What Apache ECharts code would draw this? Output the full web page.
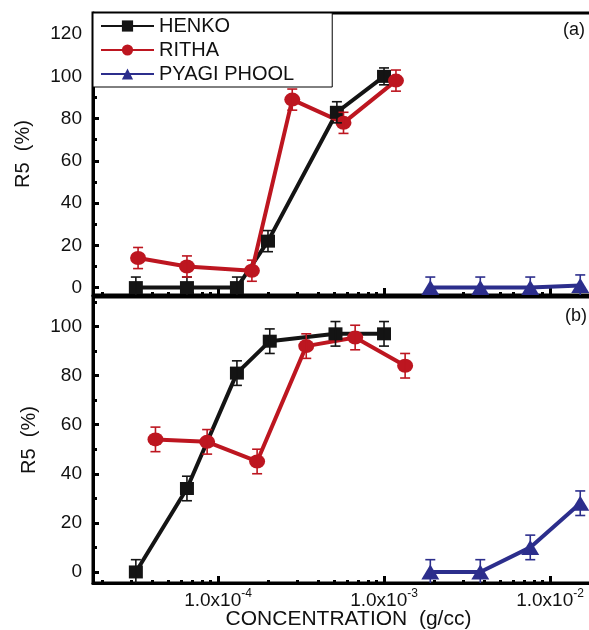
<!DOCTYPE html>
<html>
<head>
<meta charset="utf-8">
<script src="https://cdn.jsdelivr.net/npm/echarts@6/dist/echarts.min.js"></script>
<style>
  html, body { margin: 0; padding: 0; background: #fff; }
  #chart { width: 589px; height: 630px; }
</style>
</head>
<body>
<div id="chart"></div>
<script>
// panel (a)
const henkoTopConc = [3.2e-5, 6.5e-5, 1.3e-4, 2.0e-4, 5.2e-4, 1.0e-3]
const henkoTopR5 = [0, 0, 0, 22, 83, 100]
const henkoTopErr = [5, 5, 5, 5, 5, 4]
const rithaTopConc = [3.3e-5, 6.5e-5, 1.6e-4, 2.8e-4, 5.7e-4, 1.18e-3]
const rithaTopR5 = [14, 10, 8, 89, 78, 98]
const rithaTopErr = [5, 5, 5, 5, 5, 5]
const pyagiTopConc = [1.9e-3, 3.8e-3, 7.6e-3, 1.52e-2]
const pyagiTopR5 = [0, 0, 0, 1]
const pyagiTopErr = [5, 5, 5, 5]

// panel (b)
const henkoBotConc = [3.2e-5, 6.5e-5, 1.3e-4, 2.05e-4, 5.1e-4, 1.0e-3]
const henkoBotR5 = [0, 34, 81, 94, 97, 97]
const henkoBotErr = [5, 5, 5, 5, 5, 5]
const rithaBotConc = [4.2e-5, 8.6e-5, 1.72e-4, 3.4e-4, 6.7e-4, 1.34e-3]
const rithaBotR5 = [54, 53, 45, 92, 95.5, 84]
const rithaBotErr = [5, 5, 5, 5, 5, 5]
const pyagiBotConc = [1.9e-3, 3.8e-3, 7.6e-3, 1.52e-2]
const pyagiBotR5 = [0, 0, 10, 28]
const pyagiBotErr = [5, 5, 5, 5]

// axis ticks (log10 of concentration on x)
const xMajor = [-4, -3, -2]
const xMinor = []
for (let n = -5; n <= -2; n++) {
  for (let k = 2; k <= 9; k++) xMinor.push(Math.log10(k) + n)
}
const yTopLabels = [0, 20, 40, 60, 80, 100, 120]
const yTopMinor = [10, 30, 50, 70, 90, 110, 130]
const yBotLabels = [0, 20, 40, 60, 80, 100]
const yBotMinor = [10, 30, 50, 70, 90, 110]

const FONT = 'Liberation Sans, Arial, sans-serif'
const BLACK = '#141414'
const RED = '#bd1620'
const BLUE = '#2c2e8c'

const xRange = { min: -4.753, max: -1.675 }

function xAxes(grid, withLabels) {
  return [{
    type: 'value', gridIndex: grid, position: 'bottom', ...xRange,
    splitLine: { show: false },
    axisLine: { show: true, onZero: false, lineStyle: { color: '#000', width: 3 } },
    axisTick: { show: true, inside: true, length: 7, customValues: xMajor, lineStyle: { color: '#000', width: 3 } },
    axisLabel: {
      show: withLabels,
      customValues: xMajor,
      margin: 5,
      formatter: v => '{b|1.0x10}{s|' + Math.round(v) + '}',
      rich: {
        b: { fontSize: 19, fontFamily: FONT, color: '#111', lineHeight: 22, verticalAlign: 'bottom' },
        s: { fontSize: 12, fontFamily: FONT, color: '#111', lineHeight: 12, verticalAlign: 'top' }
      }
    },
    name: withLabels ? 'CONCENTRATION  (g/cc)' : '',
    nameLocation: 'middle',
    nameGap: 26,
    nameMoveOverlap: false,
    nameTextStyle: { fontSize: 21, fontFamily: FONT, color: '#111' }
  }, {
    type: 'value', gridIndex: grid, position: 'bottom', ...xRange,
    splitLine: { show: false },
    axisLine: { show: false, onZero: false },
    axisLabel: { show: false },
    axisTick: { show: true, inside: true, length: 3, customValues: xMinor, lineStyle: { color: '#000', width: 3 } }
  }]
}

function yAxes(grid, min, max, labels, minor, gap) {
  return [{
    type: 'value', gridIndex: grid, position: 'left', min: min, max: max,
    splitLine: { show: false },
    axisLine: { show: true, onZero: false, lineStyle: { color: '#000', width: 3 } },
    axisTick: { show: true, inside: true, length: 6, customValues: labels, lineStyle: { color: '#000', width: 3 } },
    axisLabel: { customValues: labels, margin: 11, fontSize: 19, fontFamily: FONT, color: '#111' },
    name: 'R5  (%)',
    nameLocation: 'middle',
    nameGap: gap,
    nameTextStyle: { fontSize: 20, fontFamily: FONT, color: '#111' }
  }, {
    type: 'value', gridIndex: grid, position: 'left', min: min, max: max,
    splitLine: { show: false },
    axisLine: { show: false, onZero: false },
    axisLabel: { show: false },
    axisTick: { show: true, inside: true, length: 4, customValues: minor, lineStyle: { color: '#000', width: 3 } }
  }]
}

function lineSeries(name, conc, vals, color, symbol, size, axis) {
  return {
    name: name,
    type: 'line',
    xAxisIndex: axis, yAxisIndex: axis,
    data: conc.map((c, i) => [Math.log10(c), vals[i]]),
    symbol: symbol,
    symbolSize: size,
    lineStyle: { color: color, width: 4 },
    itemStyle: { color: color },
    z: 3,
    animation: false
  }
}

function errSeries(conc, vals, errs, color, axis) {
  return {
    type: 'custom',
    xAxisIndex: axis, yAxisIndex: axis,
    clip: true,
    z: 4,
    silent: true,
    animation: false,
    data: conc.map((c, i) => [Math.log10(c), vals[i] - errs[i], vals[i] + errs[i]]),
    encode: { x: 0, y: [1, 2] },
    renderItem(params, api) {
      const hi = api.coord([api.value(0), api.value(2)])
      const lo = api.coord([api.value(0), api.value(1)])
      const w = 5
      const style = { stroke: color, lineWidth: 1.6 }
      return {
        type: 'group',
        children: [
          { type: 'line', shape: { x1: hi[0], y1: hi[1], x2: lo[0], y2: lo[1] }, style },
          { type: 'line', shape: { x1: hi[0] - w, y1: hi[1], x2: hi[0] + w, y2: hi[1] }, style },
          { type: 'line', shape: { x1: lo[0] - w, y1: lo[1], x2: lo[0] + w, y2: lo[1] }, style }
        ]
      }
    }
  }
}

const chart = echarts.init(document.getElementById('chart'))

chart.setOption({
  backgroundColor: '#fff',
  animation: false,
  textStyle: { fontFamily: FONT },
  grid: [
    { left: 93, top: 13, right: -15, height: 282, outerBoundsMode: 'none', containLabel: false, show: true, borderColor: '#000', borderWidth: 3 },
    { left: 93, top: 297, right: -15, height: 286, outerBoundsMode: 'none', containLabel: false, show: true, borderColor: '#000', borderWidth: 3 }
  ],
  legend: {
    data: ['HENKO', 'RITHA', 'PYAGI PHOOL'],
    orient: 'vertical',
    left: 93,
    top: 13,
    padding: [3, 38, 3, 7],
    itemGap: 4,
    itemWidth: 53,
    itemHeight: 14,
    backgroundColor: '#fff',
    borderColor: '#000',
    borderWidth: 1,
    borderRadius: 0,
    textStyle: { fontSize: 20, fontFamily: FONT, color: '#111', lineHeight: 19 },
    z: 10
  },
  xAxis: [...xAxes(0, false), ...xAxes(1, true)],
  yAxis: [...yAxes(0, -3.5, 130, yTopLabels, yTopMinor, 60), ...yAxes(1, -4.5, 112, yBotLabels, yBotMinor, 53)],
  graphic: [
    { type: 'text', left: 563, top: 21, style: { text: '(a)', fontSize: 18, fontFamily: FONT, fill: '#111' } },
    { type: 'text', left: 565, top: 307, style: { text: '(b)', fontSize: 18, fontFamily: FONT, fill: '#111' } }
  ],
  series: [
    lineSeries('HENKO', henkoTopConc, henkoTopR5, BLACK, 'rect', [14, 13], 0),
    lineSeries('RITHA', rithaTopConc, rithaTopR5, RED, 'circle', [16, 14], 0),
    lineSeries('PYAGI PHOOL', pyagiTopConc, pyagiTopR5, BLUE, 'triangle', [18, 15], 0),
    errSeries(henkoTopConc, henkoTopR5, henkoTopErr, BLACK, 0),
    errSeries(rithaTopConc, rithaTopR5, rithaTopErr, RED, 0),
    errSeries(pyagiTopConc, pyagiTopR5, pyagiTopErr, BLUE, 0),
    lineSeries('HENKO', henkoBotConc, henkoBotR5, BLACK, 'rect', [14, 13], 2),
    lineSeries('RITHA', rithaBotConc, rithaBotR5, RED, 'circle', [16, 14], 2),
    lineSeries('PYAGI PHOOL', pyagiBotConc, pyagiBotR5, BLUE, 'triangle', [18, 15], 2),
    errSeries(henkoBotConc, henkoBotR5, henkoBotErr, BLACK, 2),
    errSeries(rithaBotConc, rithaBotR5, rithaBotErr, RED, 2),
    errSeries(pyagiBotConc, pyagiBotR5, pyagiBotErr, BLUE, 2)
  ]
})
</script>
</body>
</html>
